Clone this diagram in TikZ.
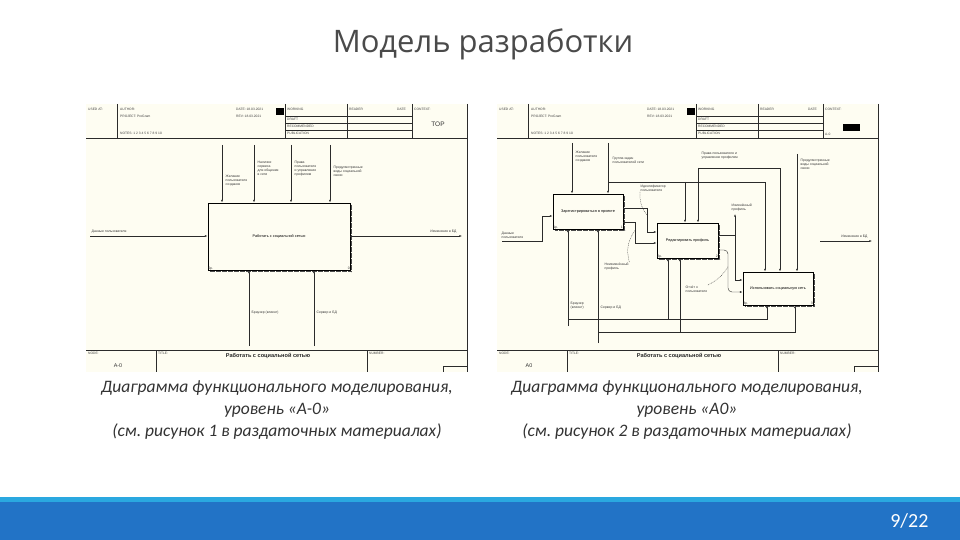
\documentclass[tikz,border=0pt]{standalone}
\usepackage{fontspec}
\setmainfont{Carlito}
\newfontfamily\titlefont{Open Sans}
\newfontfamily\diagfont{Liberation Sans}
\usetikzlibrary{arrows.meta, positioning, calc}
\frenchspacing
\definecolor{slidetext}{HTML}{4A4A4A}
\definecolor{captext}{HTML}{333333}
\definecolor{diagbg}{HTML}{FEFDF2}
\definecolor{barblue}{HTML}{2273C6}
\definecolor{barcyan}{HTML}{2AA8E0}
\definecolor{diagline}{HTML}{2B2B2B}
\tikzset{
  % IDEF0 sheet frame
  frameline/.style={draw=diagline, line width=0.35pt},
  hdr/.style={font=\diagfont\fontsize{3.3}{3.8}\selectfont, anchor=north west,
              inner sep=0pt, text=black!75},
  % Function boxes
  idefbox/.style={draw=black, fill=diagbg, line width=0.9pt,
                  font=\diagfont\fontsize{3.8}{4.4}\selectfont, align=center,
                  inner sep=1pt},
  boxshade/.style={draw=black!70, line width=1.3pt, dash pattern=on 0.6pt off 0.6pt},
  % Arrows
  flow/.style={draw=diagline, line width=0.4pt, -{Latex[length=2.6pt, width=1.8pt]}},
  squiggle/.style={draw=diagline, line width=0.3pt, dash pattern=on 1pt off 0.8pt},
  % Labels
  lbl/.style={font=\diagfont\fontsize{3.4}{4}\selectfont, align=left,
              inner sep=0.5pt, text=black!80},
  caption/.style={font=\itshape\fontsize{17.5}{22}\selectfont, text=captext,
                  align=center},
}
% sheet frame: #1 prefix, #2 node number, #3 context cell
\newcommand{\idefframe}[3]{%
  \fill[diagbg] (0,0) rectangle (382,268);
  \draw[frameline] (0,34) -- (381,34);
  \draw[frameline] (31,0) -- (31,34);
  \draw[frameline] (199,0) -- (199,34);
  \draw[frameline] (261,0) -- (261,34);
  \draw[frameline] (326,0) -- (326,34);
  \draw[frameline] (199,12.5) -- (326,12.5);
  \draw[frameline] (199,19.5) -- (326,19.5);
  \draw[frameline] (199,26.5) -- (326,26.5);
  \draw[frameline] (381,0) -- (381,268);
  \fill[black] (190,4) rectangle (198,11.5);
  \node[hdr] (#1used) at (2,4) {USED AT:};
  \node[hdr] (#1author) at (34,4) {AUTHOR:};
  \node[hdr] (#1project) at (34,11) {PROJECT: ProGram};
  \node[hdr] (#1notes) at (34,28) {NOTES: 1 2 3 4 5 6 7 8 9 10};
  \node[hdr] (#1date) at (150,4) {DATE: 18.03.2021};
  \node[hdr] (#1rev) at (150,11) {REV: 18.03.2021};
  \node[hdr] (#1working) at (201,4) {WORKING};
  \node[hdr] (#1draft) at (201,14) {DRAFT};
  \node[hdr] (#1recom) at (201,21) {RECOMMENDED};
  \node[hdr] (#1public) at (201,28) {PUBLICATION};
  \node[hdr] (#1reader) at (263,4) {READER};
  \node[hdr] (#1datec) at (311,4) {DATE};
  \node[hdr] (#1context) at (328,4) {CONTEXT:};
  #3
  % footer
  \draw[frameline] (0,246) -- (381,246);
  \draw[frameline] (70,246) -- (70,268);
  \draw[frameline] (281,246) -- (281,268);
  \draw[frameline] (357,262) -- (381,262);
  \draw[frameline] (357,262) -- (357,268);
  \node[hdr] (#1nodelbl) at (2,248) {NODE:};
  \node[hdr] (#1titlelbl) at (72,248) {TITLE:};
  \node[hdr] (#1numlbl) at (283,248) {NUMBER:};
  \node[font=\diagfont\bfseries\fontsize{5.6}{6}\selectfont, text=black!85]
    (#1title) at (182,252) {Работать с социальной сетью};
  \node[font=\diagfont\fontsize{5.4}{6}\selectfont, text=black!80]
    (#1node) at (32,262) {#2};
}

\begin{document}
\begin{tikzpicture}[x=1pt, y=-1pt]
  \useasboundingbox (0,0) rectangle (960,540);
  \fill[white] (0,0) rectangle (960,540);

  \node[font=\titlefont\fontsize{31}{36}\selectfont, text=slidetext] (title)
    at (483,44) {Модель разработки};

  % ---- left sheet: A-0 ----
  \begin{scope}[shift={(86,104)}]
    \idefframe{l}{A-0}{\node[font=\diagfont\fontsize{6.5}{7}\selectfont, text=black!80]
      (ltop) at (352,20) {TOP};}
    \node[idefbox, minimum width=142pt, minimum height=67pt] (lbox) at (193,132.5)
      {Работать с социальной сетью};
    \draw[boxshade] ([xshift=1.3pt, yshift=-2pt]lbox.north east)
      -- ([xshift=1.3pt, yshift=-1.3pt]lbox.south east)
      -- ([xshift=2pt, yshift=-1.3pt]lbox.south west);
    \node[lbl, anchor=south west] (lboxnum) at (lbox.south west) {0р.};
    \node[lbl, anchor=south east] (lboxid) at (lbox.south east) {0};
    % controls
    \coordinate (lc1) at (136,41);
    \coordinate (lc2) at (168,41);
    \coordinate (lc3) at (205,41);
    \coordinate (lc4) at (244,41);
    \foreach \c in {lc1, lc2, lc3, lc4}
      \draw[flow] (\c) -- (\c |- lbox.north);
    \node[lbl, anchor=north west] (lc1t) at (139,70) {Желание\\пользователя\\создания};
    \node[lbl, anchor=north west] (lc2t) at (171,56) {Наличие\\сервиса\\для общения\\в сети};
    \node[lbl, anchor=north west] (lc3t) at (208,56) {Права\\пользователя\\и управление\\профилем};
    \node[lbl, anchor=north west] (lc4t) at (247,61) {Предусмотренные\\виды социальной\\связи};
    % input / output
    \coordinate (lin) at (4,132);
    \coordinate (lout) at (376,132);
    \draw[flow] (lin) -- (lin -| lbox.west);
    \draw[flow] (lbox.east |- lout) -- (lout);
    \node[lbl, anchor=south west] (lint) at (5,130) {Данные пользователя};
    \node[lbl, anchor=south east] (loutt) at (371,130) {Изменения в БД};
    % mechanisms
    \coordinate (lm1) at (163,242);
    \coordinate (lm2) at (228,242);
    \draw[flow] (lm1) -- (lm1 |- lbox.south);
    \draw[flow] (lm2) -- (lm2 |- lbox.south);
    \node[lbl, anchor=west] (lm1t) at (165,209) {Браузер (клиент)};
    \node[lbl, anchor=west] (lm2t) at (230,209) {Сервер и БД};
  \end{scope}

  % ---- right sheet: A0 ----
  \begin{scope}[shift={(497,104)}]
    \idefframe{r}{A0}{\fill[black] (346,20) rectangle (363,27);
      \node[hdr] (rctx) at (328,29) {A-0};}
    \node[idefbox, minimum width=70pt, minimum height=35pt] (rreg) at (91,107.5)
      {Зарегистрироваться в проекте};
    \node[idefbox, minimum width=61pt, minimum height=35pt] (redit) at (190.5,136.5)
      {Редактировать профиль};
    \node[idefbox, minimum width=70pt, minimum height=33pt] (ruse) at (281,184.5)
      {Использовать социальную сеть};
    \foreach \b/\n in {rreg/1, redit/2, ruse/3} {
      \draw[boxshade] ([xshift=1.3pt, yshift=-2pt]\b.north east)
        -- ([xshift=1.3pt, yshift=-1.3pt]\b.south east)
        -- ([xshift=2pt, yshift=-1.3pt]\b.south west);
      \node[lbl, anchor=south west] (\b num) at (\b.south west) {\n р.};
      \node[lbl, anchor=south east] (\b id) at (\b.south east) {\n};
    }
    % controls
    \coordinate (rc1) at (75,39);
    \coordinate (rc2) at (111,39);
    \draw[flow] (rc1) -- (rc1 |- rreg.north);
    \draw[flow] (rc2) -- (rc2 |- rreg.north);
    \node[lbl, anchor=north west] (rc1t) at (78,46) {Желание\\пользователя\\создания};
    \node[lbl, anchor=north west] (rc2t) at (115,52) {Группа задач\\пользователей сети};
    \coordinate (rj2) at (111,78);
    \coordinate (rk2) at (268,78);
    \coordinate (rb2) at (188,78);
    \draw[flow] (rj2) -- (rk2) -- (rk2 |- ruse.north);
    \draw[flow] (rb2) -- (rb2 |- redit.north);
    \coordinate (rc3) at (201,64);
    \coordinate (rk3) at (283,64);
    \draw[flow] (rc3) -- (rk3) -- (rk3 |- ruse.north);
    \draw[flow] (rc3) -- (rc3 |- redit.north);
    \node[lbl, anchor=north west] (rc3t) at (204,47) {Права пользователя и\\управление профилем};
    \coordinate (rc4) at (300,50);
    \draw[flow] (rc4) -- (rc4 |- ruse.north);
    \node[lbl, anchor=north west] (rc4t) at (303,54) {Предусмотренные\\виды социальной\\связи};
    % input
    \coordinate (rin) at (5,137);
    \coordinate (rinb) at (45,137);
    \coordinate (rinc) at (45,112);
    \draw[flow] (rin) -- (rinb) -- (rinc) -- (rinc -| rreg.west);
    \node[lbl, anchor=south west] (rint) at (4,135) {Данные\\пользователя};
    % box 1 to box 2
    \coordinate (ro1) at (150,104);
    \coordinate (ro1b) at (150,128);
    \draw[flow] (rreg.east |- ro1) -- (ro1) -- (ro1b) -- (ro1b -| redit.west);
    \coordinate (ro2) at (138,118);
    \coordinate (ro2b) at (138,139);
    \draw[flow] (rreg.east |- ro2) -- (ro2) -- (ro2b) -- (ro2b -| redit.west);
    \node[lbl, anchor=north west] (ridt) at (143,80) {Идентификатор\\пользователя};
    \draw[squiggle] (ridt.south west) to[bend right=20] ($(ro1)!0.3!(ro1b)$);
    \node[lbl, anchor=north west] (rnch) at (107,158) {Неизменённый\\профиль};
    \draw[squiggle] (rnch.north east) to[bend left=25] ($(ro2)!0.4!(ro2b)$);
    % box 2 to box 3
    \coordinate (ro3) at (238,131);
    \coordinate (ro3t) at (238,110);
    \coordinate (ro3b) at (238,176);
    \draw[flow] (redit.east |- ro3) -- (ro3) -- (ro3t);
    \draw[flow] (ro3) -- (ro3b) -- (ro3b -| ruse.west);
    \node[lbl, anchor=south west] (rnewp) at (234,108) {Изменённый\\профиль};
    \coordinate (ro4) at (231,146);
    \coordinate (ro4b) at (231,188);
    \draw[flow, rounded corners=4pt] (redit.east |- ro4) -- (ro4) -- (ro4b) -- (ro4b -| ruse.west);
    \node[lbl, anchor=north west] (rrep) at (188,181) {Отчёт о\\пользователе};
    \draw[squiggle] (rrep.north east) to[bend right=15] ($(ro4)!0.4!(ro4b)$);
    % output
    \coordinate (rout) at (323,137);
    \coordinate (routb) at (375,137);
    \draw[flow] (rout) -- (routb);
    \node[lbl, anchor=south east] (routt) at (371,135) {Изменения в БД};
    % mechanisms
    \coordinate (rm1) at (71,222);
    \coordinate (rm1a) at (71,215);
    \coordinate (rm1b) at (270,215);
    \coordinate (rm1c) at (171,215);
    \draw[flow] (rm1) -- (rm1 |- rreg.south);
    \draw[flow] (rm1a) -- (rm1b) -- (rm1b |- ruse.south);
    \draw[flow] (rm1c) -- (rm1c |- redit.south);
    \coordinate (rm2) at (101,239);
    \coordinate (rm2a) at (101,228);
    \coordinate (rm2b) at (298,228);
    \coordinate (rm2c) at (183,228);
    \draw[flow] (rm2) -- (rm2 |- rreg.south);
    \draw[flow] (rm2a) -- (rm2b) -- (rm2b |- ruse.south);
    \draw[flow] (rm2c) -- (rm2c |- redit.south);
    \node[lbl, anchor=north west] (rm1t) at (73,197) {Браузер\\(клиент)};
    \node[lbl, anchor=north west] (rm2t) at (103,201) {Сервер и БД};
  \end{scope}

  % captions
  \node[caption] (lcap) at (277,410)
    {Диаграмма функционального моделирования,\\уровень «А-0»\\(см. рисунок 1 в раздаточных материалах)};
  \node[caption] (rcap) at (687,410)
    {Диаграмма функционального моделирования,\\уровень «А0»\\(см. рисунок 2 в раздаточных материалах)};

  % footer bar
  \fill[barblue] (0,497) rectangle (960,540);
  \fill[barcyan] (0,497) rectangle (960,502);
  \node[font=\fontsize{20}{24}\selectfont, text=white, anchor=east] (pagenum)
    at (932,521) {9/22};
\end{tikzpicture}
\end{document}
